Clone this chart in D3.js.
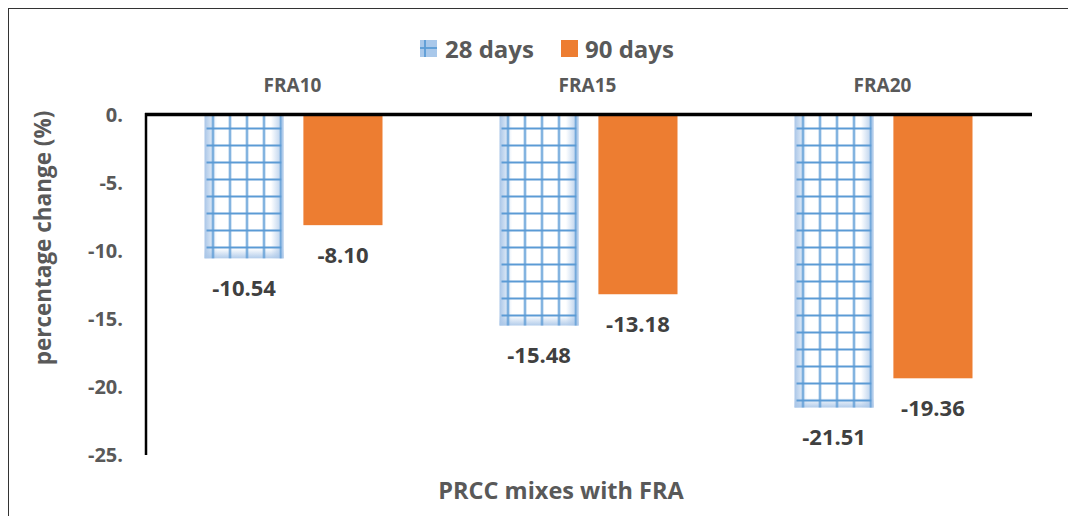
<!DOCTYPE html>
<html>
<head>
<meta charset="utf-8">
<script src="https://cdn.jsdelivr.net/npm/d3@7"></script>
<style>
  html, body { margin: 0; padding: 0; background: #fff; }
  svg { display: block; }
  text { font-family: "Open Sans", Lato, sans-serif; font-weight: 700; }
</style>
</head>
<body>
<svg id="chart" width="1068" height="516"></svg>
<script>
// Chart data
const categories = ["FRA10", "FRA15", "FRA20"];
const seriesNames = ["28 days", "90 days"];
const days28 = [-10.54, -15.48, -21.51];
const days90 = [-8.10, -13.18, -19.36];
const yTicks = [0, -5, -10, -15, -20, -25];

const svg = d3.select("#chart");

// Frame around the chart
svg.append("rect")
  .attr("x", 8.5).attr("y", 8.5)
  .attr("width", 1200).attr("height", 700)
  .attr("fill", "none").attr("stroke", "#333").attr("stroke-width", 1);

const plot = { left: 146, right: 1031, top: 115, bottom: 455 };

const y = d3.scaleLinear().domain([0, -25]).range([plot.top, plot.bottom]);
const x0 = d3.scaleBand().domain(categories).range([plot.left, plot.right]).paddingInner(0).paddingOuter(0);
const groupW = 178;
const x1 = d3.scaleBand().domain(seriesNames).range([0, groupW]).paddingInner(0.2).paddingOuter(0);

const defs = svg.append("defs");

// Soft blue edge shading for the gridded bars
const grad = defs.append("linearGradient").attr("id", "edgeGrad")
  .attr("x1", "0%").attr("x2", "100%").attr("y1", "0%").attr("y2", "0%");
[["0%", "#a9c6e8"], ["16%", "#ffffff"], ["84%", "#ffffff"], ["100%", "#a9c6e8"]]
  .forEach(([o, c]) => grad.append("stop").attr("offset", o).attr("stop-color", c));

const gradV = defs.append("linearGradient").attr("id", "edgeGradV")
  .attr("x1", "0%").attr("x2", "0%").attr("y1", "0%").attr("y2", "100%");
[["0%", "#a9c6e8", 0], ["100%", "#a9c6e8", 0.9]]
  .forEach(([o, c, op]) => gradV.append("stop").attr("offset", o).attr("stop-color", c).attr("stop-opacity", op));

// Grid hatch pattern
const pat = defs.append("pattern").attr("id", "grid")
  .attr("patternUnits", "userSpaceOnUse")
  .attr("width", 17).attr("height", 17)
  .attr("x", 0).attr("y", 7);
pat.append("line").attr("x1", 0).attr("x2", 17).attr("y1", 2.5).attr("y2", 2.5)
  .attr("stroke", "#5b9bd5").attr("stroke-width", 2);
pat.append("line").attr("x1", 8.5).attr("x2", 8.5).attr("y1", 0).attr("y2", 17)
  .attr("stroke", "#5b9bd5").attr("stroke-width", 2);

const grey = "#595959";
const dark = "#404040";

// Y axis ticks
svg.append("g").selectAll("text").data(yTicks).join("text")
  .attr("x", 123).attr("y", d => y(d))
  .attr("dy", "0.36em").attr("text-anchor", "end")
  .attr("font-size", 20).attr("fill", grey)
  .text(d => d + ".");

// Bars
const groups = svg.append("g").selectAll("g").data(categories).join("g")
  .attr("transform", d => `translate(${x0(d) + (x0.bandwidth() - groupW) / 2},0)`);

groups.each(function(cat, i) {
  const g = d3.select(this);
  const v28 = days28[i], v90 = days90[i];
  const bx = x1("28 days"), bw = x1.bandwidth();
  // 28 days: shaded background plus grid
  g.append("rect").attr("x", bx).attr("y", y(0)).attr("width", bw).attr("height", y(v28) - y(0))
    .attr("fill", "url(#edgeGrad)");
  g.append("rect").attr("x", bx).attr("y", y(v28) - 10).attr("width", bw).attr("height", 10)
    .attr("fill", "url(#edgeGradV)");
  g.append("rect").attr("x", bx + 2).attr("y", y(0)).attr("width", bw - 4).attr("height", y(v28) - y(0))
    .attr("fill", "url(#grid)");
  // 90 days: solid orange
  g.append("rect").attr("x", x1("90 days")).attr("y", y(0)).attr("width", bw).attr("height", y(v90) - y(0))
    .attr("fill", "#ed7d31");

  // Value labels below bars
  g.append("text").attr("x", bx + bw / 2).attr("y", y(v28) + 30)
    .attr("dy", "0.36em").attr("text-anchor", "middle")
    .attr("font-size", 22).attr("fill", dark).text(v28.toFixed(2));
  g.append("text").attr("x", x1("90 days") + bw / 2).attr("y", y(v90) + 30)
    .attr("dy", "0.36em").attr("text-anchor", "middle")
    .attr("font-size", 22).attr("fill", dark).text(v90.toFixed(2));
});

// Category labels at top
svg.append("g").selectAll("text").data(categories).join("text")
  .attr("x", d => x0(d) + x0.bandwidth() / 2 - 1).attr("y", 85)
  .attr("dy", "0.36em").attr("text-anchor", "middle")
  .attr("font-size", 19).attr("fill", grey).text(d => d);

// Axis lines
svg.append("line").attr("x1", plot.left).attr("x2", plot.left)
  .attr("y1", plot.top - 2).attr("y2", plot.bottom)
  .attr("stroke", "#000").attr("stroke-width", 2.5);
svg.append("line").attr("x1", plot.left - 1).attr("x2", plot.right + 1)
  .attr("y1", y(0) - 0.5).attr("y2", y(0) - 0.5)
  .attr("stroke", "#000").attr("stroke-width", 3.5);

// Axis titles
svg.append("text")
  .attr("transform", `translate(43,238) rotate(-90)`)
  .attr("dy", "0.36em").attr("text-anchor", "middle")
  .attr("font-size", 22.5).attr("fill", grey).text("percentage change (%)");
svg.append("text").attr("x", 561).attr("y", 491)
  .attr("dy", "0.36em").attr("text-anchor", "middle")
  .attr("font-size", 23.5).attr("fill", grey).text("PRCC mixes with FRA");

// Legend
const legend = svg.append("g");
const l1 = legend.append("g").attr("transform", "translate(420,40)");
l1.append("rect").attr("width", 17).attr("height", 17).attr("fill", "#a9c8ea");
l1.append("line").attr("x1", 5).attr("x2", 5).attr("y1", 0).attr("y2", 17)
  .attr("stroke", "#5b9bd5").attr("stroke-width", 1.8);
l1.append("line").attr("x1", 0).attr("x2", 17).attr("y1", 8).attr("y2", 8)
  .attr("stroke", "#5b9bd5").attr("stroke-width", 1.8);
l1.append("text").attr("x", 25).attr("y", 9).attr("dy", "0.36em")
  .attr("font-size", 24).attr("fill", grey).text(seriesNames[0]);
const l2 = legend.append("g").attr("transform", "translate(561,40)");
l2.append("rect").attr("width", 17).attr("height", 17).attr("fill", "#ed7d31");
l2.append("text").attr("x", 24).attr("y", 9).attr("dy", "0.36em")
  .attr("font-size", 24).attr("fill", grey).text(seriesNames[1]);
</script>
</body>
</html>
